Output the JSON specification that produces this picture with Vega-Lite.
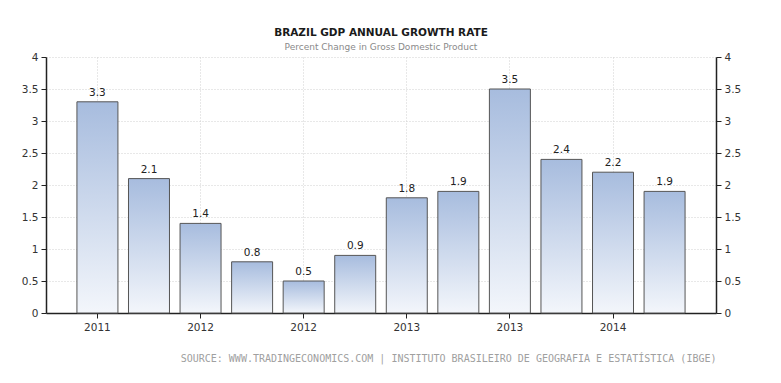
{
  "$schema": "https://vega.github.io/schema/vega-lite/v6.json",
  "autosize": "none",
  "width": 670,
  "height": 256,
  "padding": {"left": 46, "top": 57, "right": 65, "bottom": 70},
  "background": "white",
  "title": {
    "text": "BRAZIL GDP ANNUAL GROWTH RATE",
    "subtitle": "Percent Change in Gross Domestic Product",
    "anchor": "middle",
    "font": "DejaVu Sans",
    "fontSize": 10.5,
    "fontWeight": "bold",
    "color": "#1a1a1a",
    "subtitleFont": "DejaVu Sans",
    "subtitleFontSize": 9,
    "subtitleColor": "#8a8a8a",
    "subtitlePadding": 5,
    "offset": 0
  },
  "config": {
    "view": {"stroke": null},
    "axis": {
      "labelFont": "DejaVu Sans",
      "labelFontSize": 10.5,
      "labelColor": "#333333",
      "domainColor": "#222222",
      "domainWidth": 1.5,
      "tickColor": "#222222",
      "tickSize": 5,
      "gridColor": "#d0d0d0",
      "gridDash": [1, 2],
      "gridWidth": 1
    }
  },
  "data": {
    "values": [
      {"quarter": "2011 Q3", "value": 3.3},
      {"quarter": "2011 Q4", "value": 2.1},
      {"quarter": "2012 Q1", "value": 1.4},
      {"quarter": "2012 Q2", "value": 0.8},
      {"quarter": "2012 Q3", "value": 0.5},
      {"quarter": "2012 Q4", "value": 0.9},
      {"quarter": "2013 Q1", "value": 1.8},
      {"quarter": "2013 Q2", "value": 1.9},
      {"quarter": "2013 Q3", "value": 3.5},
      {"quarter": "2013 Q4", "value": 2.4},
      {"quarter": "2014 Q1", "value": 2.2},
      {"quarter": "2014 Q2", "value": 1.9}
    ]
  },
  "encoding": {
    "x": {
      "field": "quarter",
      "type": "ordinal",
      "sort": null,
      "scale": {"paddingInner": 0.205, "paddingOuter": 0.6},
      "axis": {
        "values": ["2011 Q3", "2012 Q1", "2012 Q3", "2013 Q1", "2013 Q3", "2014 Q1"],
        "labelExpr": "substring(datum.value, 0, 4)",
        "labelAngle": 0,
        "labelPadding": 4,
        "grid": true,
        "title": "SOURCE: WWW.TRADINGECONOMICS.COM | INSTITUTO BRASILEIRO DE GEOGRAFIA E ESTATÍSTICA (IBGE)",
        "titleAnchor": "end",
        "titleFont": "DejaVu Sans Mono",
        "titleFontSize": 10,
        "titleFontWeight": "normal",
        "titleColor": "#a0a0a0",
        "titlePadding": 21
      }
    }
  },
  "layer": [
    {
      "mark": {
        "type": "bar",
        "stroke": "#555555",
        "strokeWidth": 1,
        "fill": {
          "gradient": "linear",
          "x1": 0, "y1": 0, "x2": 0, "y2": 1,
          "stops": [
            {"offset": 0, "color": "#a7bcde"},
            {"offset": 1, "color": "#f3f6fb"}
          ]
        }
      },
      "encoding": {
        "y": {
          "field": "value",
          "type": "quantitative",
          "scale": {"domain": [0, 4]},
          "axis": {
            "orient": "left",
            "values": [0, 0.5, 1, 1.5, 2, 2.5, 3, 3.5, 4],
            "format": "~g",
            "grid": true,
            "title": null,
            "labelPadding": 3
          }
        }
      }
    },
    {
      "mark": {
        "type": "text",
        "dy": -9,
        "font": "DejaVu Sans",
        "fontSize": 10.5,
        "color": "#222222"
      },
      "encoding": {
        "y": {
          "field": "value",
          "type": "quantitative",
          "scale": {"domain": [0, 4]},
          "axis": {
            "orient": "right",
            "values": [0, 0.5, 1, 1.5, 2, 2.5, 3, 3.5, 4],
            "format": "~g",
            "grid": false,
            "title": null,
            "labelPadding": 3
          }
        },
        "text": {"field": "value", "type": "quantitative", "format": ".1f"}
      }
    }
  ],
  "resolve": {"scale": {"y": "independent"}, "axis": {"y": "independent"}}
}
